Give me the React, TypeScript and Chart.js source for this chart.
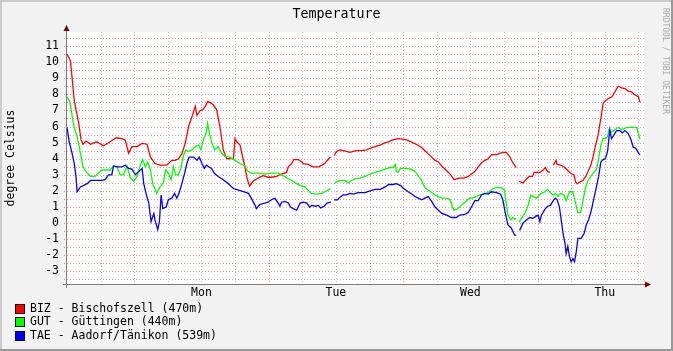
import React, { useEffect, useRef } from "react";
import { Chart, registerables } from "chart.js";

Chart.register(...registerables);

const W = 673;
const H = 351;
const FONT = '"DejaVu Sans Mono", "Liberation Mono", monospace';

const TITLE = "Temperature";
const Y_LABEL = "degree Celsius";
const CREDIT = "RRDTOOL / TOBI OETIKER";

// x = hours since Sunday 12:00
const DAY_LABELS = ["Mon", "Tue", "Wed", "Thu"];
const DAY_NOON_HOURS = [24, 48, 72, 96];
const Y_TICKS = [-3, -2, -1, 0, 1, 2, 3, 4, 5, 6, 7, 8, 9, 10, 11];
const X_MIN = 0;
const X_MAX = 103;
const Y_MIN = -3.78;
const Y_MAX = 11.87;

const SERIES_NAMES = [
  "BIZ - Bischofszell (470m)",
  "GUT - Güttingen (440m)",
  "TAE - Aadorf/Tänikon (539m)",
];
const SERIES_COLORS = ["#ff0000", "#00ff00", "#0000ff"];

type P = [number, number | null];

const BIZ_POINTS: P[] = [
  [0, 10.5], [0.3, 10.3], [0.6, 10.1], [1, 8.7], [1.3, 7.6], [1.7, 6.9], [2.1, 6.2], [2.5, 5.2], [2.85, 4.9],
  [3.4, 5.1], [4.2, 4.9], [5.3, 5.05], [6.5, 4.8], [7.7, 5.05], [8.8, 5.3], [9.8, 5.25], [10.4, 5.15], [11, 4.35],
  [11.6, 4.75], [12.5, 4.75], [13.4, 4.95], [14.3, 4.9], [14.9, 4.1], [15.7, 3.7], [16.6, 3.6], [17.8, 3.6],
  [18.7, 3.9], [19.3, 3.9], [19.9, 4.0], [20.5, 4.3], [21.1, 4.95], [21.7, 6.0], [22.3, 6.6], [22.9, 7.25],
  [23.2, 6.7], [23.8, 7.0], [24.2, 7.05], [24.7, 7.25], [25.1, 7.55], [25.5, 7.5], [26.1, 7.35], [26.7, 7.05],
  [27.3, 6.0], [27.9, 4.55], [28.5, 4.0], [29.1, 4.0], [29.7, 4.0], [30, 5.25], [30.3, 5.05], [30.9, 4.85],
  [31.3, 4.2], [31.8, 3.4], [32.2, 2.7], [32.6, 2.3], [33.2, 2.6], [34.1, 2.8], [35, 2.95], [35.9, 2.85],
  [36.5, 2.85], [37.4, 2.9], [38.3, 3.05], [39.2, 3.15], [39.5, 3.5], [40.1, 3.7], [40.5, 3.95], [41.3, 3.95],
  [41.9, 3.8], [42.2, 3.7], [43, 3.65], [43.9, 3.5], [44.9, 3.5], [45.5, 3.6], [46, 3.7], [46.6, 3.95], [47, 4.1],
  [47.3, null], [47.7, 4.2], [48.1, 4.45], [48.7, 4.55], [49.3, 4.5], [49.9, 4.45], [50.5, 4.4], [51.1, 4.45],
  [51.7, 4.5], [52.6, 4.5], [53.5, 4.55], [54.1, 4.65], [55, 4.75], [55.9, 4.85], [56.8, 5.0], [57.4, 5.05],
  [58, 5.15], [59, 5.25], [60.2, 5.2], [60.8, 5.15], [61.7, 5.0], [62.6, 4.85], [63.3, 4.7], [63.9, 4.5],
  [64.5, 4.3], [65.1, 4.1], [65.7, 3.9], [66.3, 3.8], [66.9, 3.55], [67.5, 3.35], [68.1, 3.15], [68.6, 2.95],
  [69.1, 2.7], [69.5, 2.75], [70.1, 2.8], [70.9, 2.8], [71.6, 2.9], [72.2, 3.05], [72.8, 3.2], [73.4, 3.5],
  [74, 3.75], [74.6, 3.9], [75.2, 4.0], [75.8, 4.25], [76.7, 4.25], [77.4, 4.35], [77.8, 4.4], [78.4, 4.4],
  [79, 4.15], [79.5, 3.8], [79.9, 3.6], [80.2, 3.45], [80.45, null], [80.7, 2.6], [81.4, 2.5], [81.9, 2.7],
  [82.5, 2.9], [83.1, 2.9], [83.4, 3.15], [84.4, 3.15], [85, 3.3], [85.4, 3.45], [85.8, 3.2], [86.2, 3.15],
  [86.5, null], [86.8, 3.6], [87.3, 3.9], [87.5, 3.65], [88.1, 3.6], [88.7, 3.5], [89.3, 3.3], [89.9, 3.1],
  [90.5, 3.0], [90.8, 2.55], [91.1, 2.45], [91.5, 2.55], [92.1, 2.65], [92.6, 2.9], [93, 3.2], [93.5, 3.6],
  [93.9, 4.1], [94.3, 4.75], [94.8, 5.45], [95.1, 6.1], [95.4, 6.7], [95.7, 7.45], [96.1, 7.6], [96.7, 7.75],
  [97.3, 7.85], [97.8, 8.15], [98.4, 8.5], [99, 8.4], [99.6, 8.35], [100.2, 8.2], [100.8, 8.15], [101.2, 8.0],
  [101.7, 7.9], [102, 7.85], [102.3, 7.5],
];

const GUT_POINTS: P[] = [
  [0, 7.85], [0.5, 7.55], [0.9, 6.7], [1.3, 5.9], [1.8, 5.4], [2.4, 4.35], [2.85, 3.5], [3.4, 3.2], [4.2, 2.9],
  [5, 2.9], [5.6, 3.1], [6.2, 3.3], [7.1, 3.3], [7.7, 3.3], [8.3, 3.55], [8.9, 3.5], [9.5, 3.0], [10.1, 3.0],
  [10.7, 3.55], [11.3, 2.8], [11.9, 2.6], [12.5, 2.9], [13.1, 3.6], [13.5, 3.95], [14, 3.5], [14.4, 3.8],
  [14.9, 3.3], [15.3, 2.45], [16, 1.85], [16.6, 2.25], [17.2, 2.5], [17.6, 3.3], [18.1, 3.1], [18.6, 2.7],
  [19, 3.5], [19.4, 3.0], [19.9, 3.0], [20.3, 3.4], [20.8, 4.2], [21.2, 4.55], [21.6, 4.45], [22.3, 4.55],
  [22.9, 4.75], [23.5, 4.85], [23.9, 4.55], [24.4, 5.25], [24.8, 5.55], [25.1, 6.2], [25.5, 5.45], [25.9, 4.95],
  [26.4, 4.55], [27, 4.75], [27.6, 4.35], [28.2, 4.15], [29.1, 4.1], [30, 3.9], [30.9, 3.7], [31.8, 3.55],
  [32.2, 3.25], [32.9, 3.1], [34.1, 3.1], [35.3, 3.05], [36.5, 3.1], [37.7, 3.1], [38.3, 3.0], [38.9, 2.9],
  [39.2, 2.8], [40.1, 2.65], [41, 2.45], [41.9, 2.3], [42.5, 2.25], [43, 2.05], [43.6, 1.85], [44.5, 1.8],
  [45.5, 1.85], [46, 1.95], [46.6, 2.05], [47, 2.15], [47.3, null], [47.7, 2.45], [48.1, 2.55], [48.7, 2.65],
  [49.6, 2.65], [50.2, 2.5], [50.8, 2.65], [51.4, 2.75], [52.3, 2.8], [53.2, 2.9], [54.1, 3.05], [55, 3.15],
  [55.9, 3.25], [56.8, 3.35], [57.6, 3.45], [58.2, 3.45], [58.6, 3.65], [58.8, 3.2], [59.1, 3.15], [59.5, 3.4],
  [60.6, 3.4], [61.4, 3.35], [62, 3.25], [62.6, 3.0], [63.3, 2.65], [63.9, 2.2], [64.5, 2.05], [65.1, 1.9],
  [65.7, 1.75], [66.3, 1.65], [66.9, 1.55], [67.8, 1.55], [68.4, 1.45], [68.8, 1.0], [69.1, 0.8], [69.5, 0.85],
  [70.1, 1.0], [70.7, 1.2], [71.2, 1.35], [71.8, 1.55], [72.4, 1.55], [73, 1.65], [73.6, 1.75], [74.2, 1.8],
  [74.8, 1.85], [75.4, 1.95], [76, 2.15], [76.6, 2.2], [77.5, 2.2], [78.1, 2.05], [78.4, 1.25], [78.7, 0.5],
  [79.2, 0.2], [79.6, 0.35], [79.9, 0.25], [80.2, 0.3], [80.45, null], [80.7, 0.05], [81.1, 0.3], [81.7, 0.6],
  [82.3, 1.1], [82.8, 1.75], [83.2, 1.65], [83.8, 1.55], [84.7, 1.85], [85.3, 1.95], [85.8, 2.1], [86.4, 1.85],
  [86.8, 1.75], [87.2, 1.85], [87.6, 1.65], [88.1, 1.85], [88.7, 1.75], [89.1, 1.4], [89.7, 1.95], [90.3, 1.95],
  [90.7, 1.35], [91.2, 0.65], [91.7, 0.65], [92.1, 1.35], [92.5, 2.15], [93, 2.65], [93.5, 2.9], [94.1, 3.2],
  [94.5, 3.3], [94.9, 4.0], [95.3, 4.85], [95.7, 5.25], [96.1, 5.25], [96.5, 5.35], [96.7, 5.8], [97.2, 5.65],
  [97.8, 5.8], [98.4, 5.95], [99, 5.8], [99.6, 5.9], [100.2, 5.95], [101.1, 5.95], [101.7, 5.95], [102, 5.55],
  [102.3, 5.2],
];

const TAE_POINTS: P[] = [
  [0, 5.95], [0.4, 5.05], [0.9, 4.35], [1.3, 3.7], [1.6, 2.9], [1.8, 1.95], [2.4, 2.25], [3, 2.35], [3.6, 2.45],
  [4.2, 2.65], [5.3, 2.65], [6.2, 2.65], [6.8, 2.7], [7.4, 3.0], [8, 3.0], [8.3, 3.55], [9, 3.5], [9.8, 3.5],
  [10.4, 3.6], [11, 3.4], [11.6, 3.35], [12.2, 3.0], [12.8, 3.2], [13.4, 3.4], [13.7, 2.45], [14.1, 1.85],
  [14.6, 1.25], [15, 0.1], [15.5, 0.6], [15.7, 0.2], [16.2, -0.4], [16.5, 0.1], [16.8, 1.75], [17.1, 0.9],
  [17.7, 1.0], [18.1, 1.45], [18.7, 1.55], [19.2, 1.85], [19.6, 1.55], [20, 1.85], [20.5, 2.45], [21, 3.1],
  [21.4, 3.7], [21.8, 4.1], [22.6, 4.1], [23.2, 3.9], [23.6, 4.1], [24.1, 3.7], [24.5, 3.4], [24.9, 3.6],
  [25.3, 3.5], [25.8, 3.4], [26.3, 3.1], [27, 2.9], [27.9, 2.7], [28.8, 2.45], [29.7, 2.15], [30.6, 2.05],
  [31.5, 1.95], [32.4, 1.85], [32.9, 1.55], [33.5, 1.15], [33.8, 0.9], [34.4, 1.15], [35.3, 1.25], [35.9, 1.3],
  [36.5, 1.45], [37.1, 1.55], [37.7, 1.25], [38, 1.05], [38.3, 1.3], [38.9, 1.35], [39.5, 1.25], [39.9, 1.0],
  [40.4, 0.9], [41, 0.8], [41.6, 1.25], [42.2, 1.3], [42.8, 1.25], [43.3, 1.0], [43.7, 1.1], [44.3, 1.05],
  [44.9, 1.1], [45.3, 0.95], [45.9, 1.05], [46.4, 1.25], [47.1, 1.3], [47.3, null], [47.7, 1.45], [48.3, 1.45],
  [48.7, 1.6], [49.3, 1.75], [49.9, 1.75], [50.5, 1.85], [51.1, 1.8], [52, 1.9], [53.2, 1.9], [54.1, 2.0],
  [55, 2.1], [55.9, 2.1], [56.8, 2.25], [57.4, 2.4], [58.2, 2.4], [58.8, 2.45], [59.5, 2.35], [60.1, 2.15],
  [60.9, 1.95], [61.8, 1.75], [62.1, 1.65], [62.7, 1.55], [63.3, 1.45], [63.9, 1.55], [64.5, 1.65], [65.1, 1.35],
  [65.7, 1.0], [66.3, 0.8], [66.9, 0.6], [67.8, 0.5], [68.6, 0.35], [69.5, 0.35], [70.1, 0.5], [71, 0.55],
  [71.6, 0.65], [72.2, 1.0], [72.8, 1.4], [73.4, 1.4], [74, 1.75], [74.6, 1.85], [75.2, 1.8], [75.8, 1.95],
  [76.7, 1.9], [77.4, 1.8], [77.8, 1.45], [78.2, 0.7], [78.7, -0.1], [79.3, -0.3], [79.9, -0.75], [80.2, -0.75],
  [80.45, null], [80.8, -0.45], [81.4, 0.0], [82, 0.2], [82.6, 0.35], [83.2, 0.3], [83.8, 0.45], [84.1, 0.5],
  [84.4, 0.1], [84.7, 0.5], [85.3, 0.85], [85.8, 1.05], [86.3, 1.1], [86.8, 1.4], [87.2, 1.55], [87.5, 1.45],
  [87.9, 1.0], [88.3, 0.0], [88.6, -0.75], [88.9, -1.25], [89.1, -1.9], [89.4, -1.45], [89.7, -2.1], [90, -2.4],
  [90.3, -2.2], [90.6, -2.4], [90.9, -1.8], [91.2, -0.95], [91.8, -0.95], [92.3, -0.65], [92.7, -0.1], [93.1, 0.2],
  [93.6, 0.8], [94, 1.45], [94.5, 2.25], [94.9, 2.9], [95.3, 3.8], [95.7, 3.95], [96.1, 4.0], [96.5, 4.45],
  [96.7, 5.15], [96.9, 5.8], [97.2, 5.25], [97.6, 5.45], [98.1, 5.75], [98.7, 5.75], [99.1, 5.6], [99.6, 5.75],
  [100.2, 5.55], [100.6, 5.25], [101.1, 4.7], [101.5, 4.65], [101.8, 4.5], [102.1, 4.3], [102.3, 4.25],
];

const SERIES_POINTS = [BIZ_POINTS, GUT_POINTS, TAE_POINTS];

const rrdPlugin = {
  id: "rrdFrame",
  beforeDraw(chart: any) {
    const { ctx, chartArea: a } = chart;
    ctx.save();
    ctx.fillStyle = "#f2f2f2";
    ctx.fillRect(0, 0, W, H);
    ctx.fillStyle = "#cbcbcb";
    ctx.fillRect(0, 0, W, 2);
    ctx.fillRect(0, 0, 2, H);
    ctx.fillStyle = "#999999";
    ctx.fillRect(0, H - 2, W, 2);
    ctx.fillRect(W - 2, 0, 2, H);
    ctx.fillStyle = "#ffffff";
    ctx.fillRect(a.left, a.top, a.right - a.left, a.bottom - a.top);
    ctx.restore();
  },
  beforeDatasetsDraw(chart: any) {
    const { ctx, chartArea: a, scales } = chart;
    const xs = scales.x;
    const ys = scales.y;
    ctx.save();
    ctx.lineWidth = 1;
    ctx.setLineDash([1, 2]);
    for (let v = Math.ceil(Y_MIN * 2) / 2; v <= Y_MAX; v += 0.5) {
      const y = Math.round(ys.getPixelForValue(v)) + 0.5;
      ctx.strokeStyle = "rgba(220,40,40,0.45)";
      ctx.beginPath();
      ctx.moveTo(a.left - 3, y);
      ctx.lineTo(a.right, y);
      ctx.stroke();
    }
    for (let h = 6; h < X_MAX; h += 6) {
      const x = Math.round(xs.getPixelForValue(h)) + 0.5;
      ctx.strokeStyle = h % 24 === 12 ? "rgba(220,40,40,0.45)" : "rgba(140,140,140,0.55)";
      ctx.beginPath();
      ctx.moveTo(x, a.top);
      ctx.lineTo(x, a.bottom + 3);
      ctx.stroke();
    }
    ctx.restore();
  },
  afterDatasetsDraw(chart: any) {
    const { ctx, chartArea: a } = chart;
    ctx.save();
    ctx.setLineDash([]);
    ctx.lineWidth = 1;
    ctx.strokeStyle = "#7a7a7a";
    const ax = Math.round(a.left) - 0.5;
    const ay = Math.round(a.bottom) + 0.5;
    ctx.beginPath();
    ctx.moveTo(ax, a.top - 3);
    ctx.lineTo(ax, a.bottom + 4);
    ctx.moveTo(a.left - 4, ay);
    ctx.lineTo(a.right + 2, ay);
    ctx.stroke();
    ctx.fillStyle = "#7f0000";
    ctx.beginPath();
    ctx.moveTo(ax, a.top - 7);
    ctx.lineTo(ax - 3, a.top - 1);
    ctx.lineTo(ax + 3, a.top - 1);
    ctx.closePath();
    ctx.fill();
    ctx.beginPath();
    ctx.moveTo(a.right + 7, ay);
    ctx.lineTo(a.right + 1, ay - 3);
    ctx.lineTo(a.right + 1, ay + 3);
    ctx.closePath();
    ctx.fill();
    ctx.restore();
  },
  afterDraw(chart: any) {
    const { ctx, chartArea: a } = chart;
    ctx.save();
    ctx.fillStyle = "#000";
    ctx.font = `13.3px ${FONT}`;
    ctx.textAlign = "center";
    ctx.textBaseline = "alphabetic";
    ctx.fillText(TITLE, 336.5, 18);

    ctx.save();
    ctx.font = `11.5px ${FONT}`;
    ctx.translate(11, (a.top + a.bottom) / 2);
    ctx.rotate(-Math.PI / 2);
    ctx.textAlign = "center";
    ctx.textBaseline = "middle";
    ctx.fillText(Y_LABEL, 0, 0);
    ctx.restore();

    ctx.save();
    ctx.font = `8px ${FONT}`;
    ctx.fillStyle = "#a8a8a8";
    ctx.translate(665, 8);
    ctx.rotate(Math.PI / 2);
    ctx.textAlign = "left";
    ctx.textBaseline = "middle";
    ctx.fillText(CREDIT, 0, 0);
    ctx.restore();

    ctx.font = `11.5px ${FONT}`;
    ctx.textAlign = "left";
    ctx.textBaseline = "middle";
    SERIES_NAMES.forEach((name, i) => {
      const top = 304 + Math.round(i * 13.3);
      ctx.fillStyle = SERIES_COLORS[i];
      ctx.fillRect(15.5, top + 0.5, 9, 9);
      ctx.strokeStyle = "#000";
      ctx.lineWidth = 1;
      ctx.strokeRect(15.5, top + 0.5, 9, 9);
      ctx.fillStyle = "#000";
      ctx.fillText(name, 30, top + 5);
    });
    ctx.restore();
  },
};

export default function App() {
  const ref = useRef<HTMLCanvasElement>(null);
  useEffect(() => {
    const canvas = ref.current;
    if (!canvas) return;
    const chart = new Chart(canvas, {
      type: "line",
      data: {
        datasets: SERIES_POINTS.map((pts, i) => ({
          label: SERIES_NAMES[i],
          data: pts.map(([x, y]) => ({ x, y })),
          borderColor: SERIES_COLORS[i],
          backgroundColor: SERIES_COLORS[i],
          borderWidth: 1.3,
          pointRadius: 0,
          tension: 0,
          spanGaps: false,
          order: 2 - i,
        })),
      },
      options: {
        responsive: false,
        animation: false,
        devicePixelRatio: 1,
        parsing: true,
        layout: { padding: { left: 0, top: 32, right: 29, bottom: 27 } },
        plugins: {
          legend: { display: false },
          tooltip: { enabled: false },
          title: { display: false },
        },
        scales: {
          x: {
            type: "linear",
            min: X_MIN,
            max: X_MAX,
            grid: { display: false, drawTicks: false },
            border: { display: false },
            afterBuildTicks: (s: any) => {
              s.ticks = DAY_NOON_HOURS.map((v) => ({ value: v }));
            },
            afterFit: (s: any) => {
              s.height = 40;
            },
            ticks: {
              autoSkip: false,
              maxRotation: 0,
              padding: 2,
              color: "#000",
              font: { family: FONT, size: 11.5 },
              callback: (v: any) => {
                const i = DAY_NOON_HOURS.indexOf(Number(v));
                return i >= 0 ? DAY_LABELS[i] : "";
              },
            },
          },
          y: {
            type: "linear",
            min: Y_MIN,
            max: Y_MAX,
            grid: { display: false, drawTicks: false },
            border: { display: false },
            afterBuildTicks: (s: any) => {
              s.ticks = Y_TICKS.map((v) => ({ value: v }));
            },
            afterFit: (s: any) => {
              s.width = 67;
            },
            ticks: {
              autoSkip: false,
              padding: 8,
              color: "#000",
              font: { family: FONT, size: 11.5 },
              callback: (v: any) => String(v),
            },
          },
        },
      },
      plugins: [rrdPlugin],
    } as any);
    return () => chart.destroy();
  }, []);
  return (
    <div style={{ position: "absolute", left: 0, top: 0, width: W, height: H }}>
      <canvas ref={ref} width={W} height={H} style={{ display: "block", width: W, height: H }} />
    </div>
  );
}
